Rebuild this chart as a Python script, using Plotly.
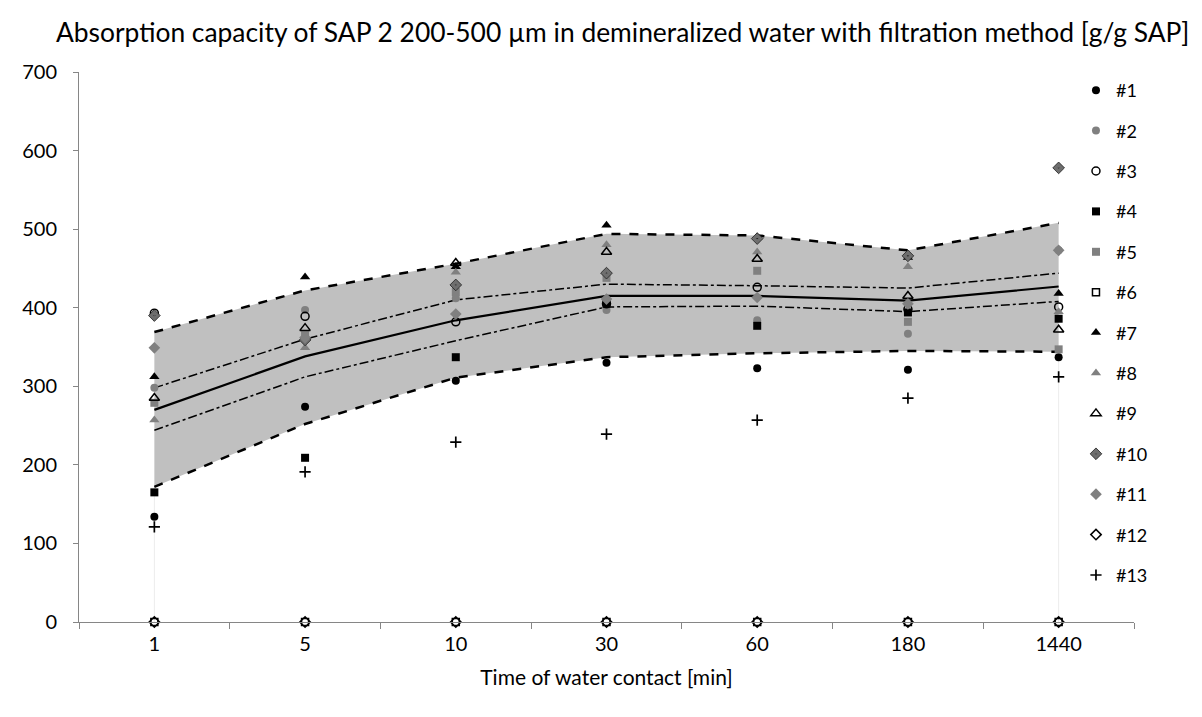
import plotly.graph_objects as go

categories = ["1", "5", "10", "30", "60", "180", "1440"]

s1 = [134, 274, 307, 330, 323, 321, 337]
s2 = [298, 397, 412, 397, 384, 367, 473]
s3 = [393, 389, 382, 405, 426, 398, 401]
s4 = [165, 209, 337, 405, 377, 394, 386]
s5 = [279, 365, 420, 438, 447, 382, 347]
s6 = [0, 0, 0, 0, 0, 0, 0]
s7 = [312, 439, 452, 505, 490, 464, 418]
s8 = [257, 349, 445, 480, 471, 452, 395]
s9 = [285, 374, 457, 471, 462, 415, 372]
s10 = [390, 359, 429, 444, 488, 466, 578]
s11 = [349, 362, 392, 411, 413, 405, 473]
s12 = [0, 0, 0, 0, 0, 0, 0]
s13 = [121, 191, 229, 239, 257, 285, 312]

mean = [270, 338, 384, 415, 415, 409, 427]
ci_upper = [298, 360, 410, 430, 428, 425, 444]
ci_lower = [244, 312, 358, 401, 402, 395, 408]
sd_upper = [369, 422, 456, 494, 492, 473, 508]
sd_lower = [172, 252, 311, 337, 342, 345, 344]

FONT = "Lato, Carlito, Calibri, sans-serif"
BLACK = "#000000"
GREY = "#808080"

fig = go.Figure()

# faint drop lines at the band edges
fig.add_trace(go.Scatter(
    x=[categories[0], categories[0], None, categories[-1], categories[-1]],
    y=[0, sd_lower[0], None, 0, sd_lower[-1]],
    mode="lines", line=dict(color="#ececec", width=1),
    showlegend=False, hoverinfo="skip"))

# grey band
fig.add_trace(go.Scatter(x=categories, y=sd_lower, mode="lines",
                         line=dict(color="rgba(0,0,0,0)", width=0),
                         showlegend=False, hoverinfo="skip"))
fig.add_trace(go.Scatter(x=categories, y=sd_upper, mode="lines",
                         line=dict(color="rgba(0,0,0,0)", width=0),
                         fill="tonexty", fillcolor="#c0c0c0",
                         showlegend=False, hoverinfo="skip"))

for ys, dash, w in [(sd_upper, "dash", 2.5), (sd_lower, "dash", 2.5),
                    (ci_upper, "dashdot", 1.5), (ci_lower, "dashdot", 1.5),
                    (mean, "solid", 2.2)]:
    fig.add_trace(go.Scatter(x=categories, y=ys, mode="lines",
                             line=dict(color=BLACK, width=w, dash=dash),
                             showlegend=False, hoverinfo="skip"))

series = [
    ("#1", s1, "circle", BLACK, BLACK, 8),
    ("#2", s2, "circle", GREY, GREY, 8),
    ("#3", s3, "circle-open", BLACK, BLACK, 8),
    ("#4", s4, "square", BLACK, BLACK, 8),
    ("#5", s5, "square", GREY, GREY, 8),
    ("#6", s6, "square-open", BLACK, BLACK, 7),
    ("#7", s7, "triangle-up", BLACK, BLACK, 9),
    ("#8", s8, "triangle-up", GREY, GREY, 9),
    ("#9", s9, "triangle-up-open", BLACK, BLACK, 9),
    ("#10", s10, "diamond-dot", "#6e6e6e", "#202020", 9),
    ("#11", s11, "diamond", GREY, GREY, 9),
    ("#12", s12, "diamond-open", BLACK, BLACK, 8),
    ("#13", s13, "cross-thin-open", BLACK, BLACK, 8),
]
for i, (name, ys, sym, fillc, linec, size) in enumerate(series):
    lw = 0
    if "open" in sym:
        lw = 1.5
    if sym == "diamond-dot":
        lw = 0.8
    if sym == "cross-thin-open":
        lw = 1.7
    fig.add_trace(go.Scatter(
        x=categories, y=ys, mode="markers", name=name,
        legendgroup=name,
        marker=dict(symbol=sym, size=size, color=fillc,
                    line=dict(color=linec, width=lw)),
        cliponaxis=False))

fig.update_layout(
    width=1202, height=717,
    margin=dict(l=79, r=68, t=72, b=95),
    paper_bgcolor="white", plot_bgcolor="white",
    font=dict(family=FONT, size=20, color=BLACK),
    title=dict(text="Absorption capacity of SAP 2 200-500 µm in demineralized water with filtration method [g/g SAP]",
               x=0.518, xref="container", xanchor="center", y=0.955, yanchor="middle",
               font=dict(family=FONT, size=26.4, color=BLACK)),
    showlegend=True,
    legend=dict(x=0.945, xanchor="left", y=1.0, yanchor="top",
                font=dict(family=FONT, size=18, color=BLACK),
                tracegroupgap=14, itemwidth=30, bgcolor="rgba(0,0,0,0)"),
    xaxis=dict(type="category", categoryorder="array", categoryarray=categories,
               range=[-0.5, 6.5], tickson="boundaries",
               ticks="outside", ticklen=6, tickcolor="#868686",
               showline=True, linecolor="#868686", linewidth=1,
               showgrid=False, zeroline=False, ticklabelstandoff=4,
               tickfont=dict(family=FONT, size=20),
               title=dict(text="Time of water contact [min]", standoff=16,
                          font=dict(family=FONT, size=21))),
    yaxis=dict(range=[0, 700], dtick=100, showline=True, linecolor="#868686",
               linewidth=1, ticks="outside", ticklen=5, tickcolor="#868686",
               ticklabelstandoff=12,
               showgrid=False, zeroline=False,
               tickfont=dict(family=FONT, size=20)),
)

fig.write_html("out.html")
